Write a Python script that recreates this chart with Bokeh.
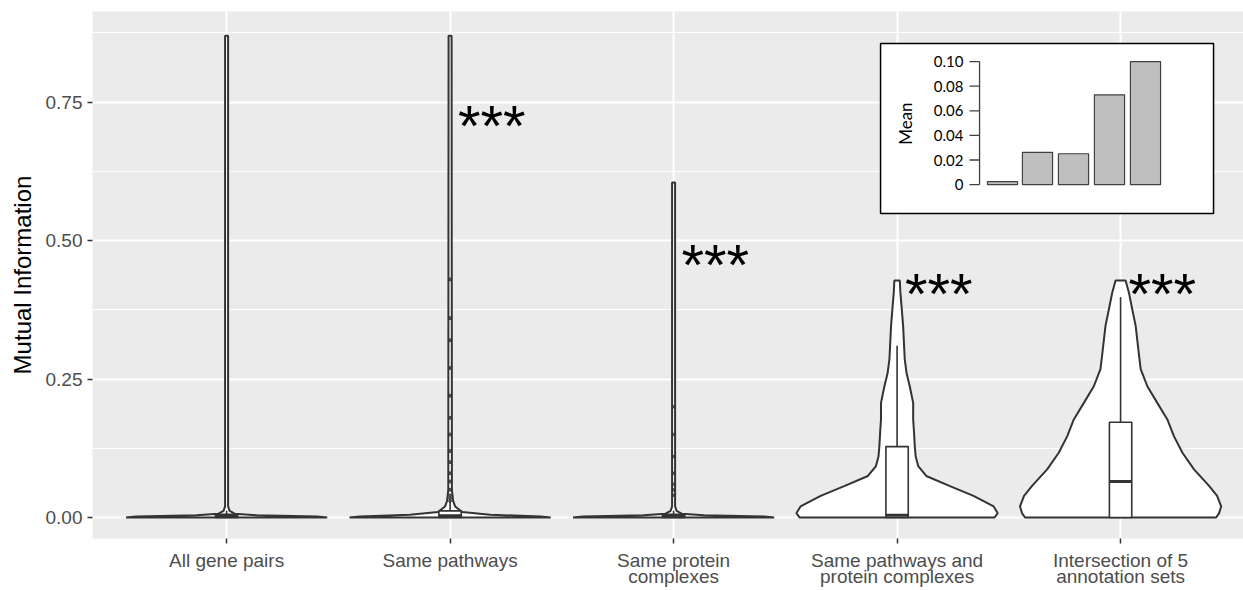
import numpy as np
from bokeh.plotting import figure
from bokeh.models import Range1d, FixedTicker
from bokeh.core.properties import value
from bokeh.embed import file_html
from bokeh.resources import INLINE

# ---------------- data ----------------
CATEGORIES = ["All gene pairs", "Same pathways", "Same protein\ncomplexes",
              "Same pathways and\nprotein complexes", "Intersection of 5\nannotation sets"]
Y_TICKS = [0.0, 0.25, 0.5, 0.75]
Y_TICK_LABELS = ["0.00", "0.25", "0.50", "0.75"]
Y_MINOR = [0.125, 0.375, 0.625, 0.875]

# violin profiles: values (y) and relative half-width (1 = widest)
V1_Y = [0.0, 0.002, 0.004, 0.007, 0.012, 0.02, 0.87]
V1_W = [1.0, 0.9, 0.3, 0.08, 0.03, 0.015, 0.015]
V2_Y = [0.0, 0.002, 0.005, 0.01, 0.02, 0.03, 0.05, 0.87]
V2_W = [1.0, 0.9, 0.4, 0.12, 0.05, 0.03, 0.018, 0.015]
V3_Y = [0.0, 0.002, 0.004, 0.007, 0.012, 0.02, 0.605]
V3_W = [1.0, 0.9, 0.3, 0.08, 0.03, 0.015, 0.015]
V4_Y = [0.0, 0.008, 0.020, 0.039, 0.057, 0.075, 0.093, 0.110, 0.129, 0.155,
        0.177, 0.207, 0.237, 0.260, 0.286, 0.346, 0.380, 0.406, 0.428]
V4_W = [0.97, 1.0, 0.96, 0.76, 0.52, 0.29, 0.21, 0.185, 0.176, 0.168,
        0.16, 0.16, 0.126, 0.095, 0.076, 0.06, 0.045, 0.033, 0.027]
V5_Y = [0.0, 0.008, 0.020, 0.039, 0.057, 0.087, 0.117, 0.147, 0.177, 0.207,
        0.237, 0.268, 0.298, 0.346, 0.376, 0.406, 0.428]
V5_W = [0.95, 0.98, 1.0, 0.96, 0.88, 0.73, 0.615, 0.53, 0.465, 0.365,
        0.266, 0.2, 0.18, 0.15, 0.116, 0.083, 0.05]
VIOLIN_Y = [V1_Y, V2_Y, V3_Y, V4_Y, V5_Y]
VIOLIN_W = [V1_W, V2_W, V3_W, V4_W, V5_W]

# boxplot statistics
BOX_LO = [0.0, 0.0, 0.0, 0.0, 0.0]
BOX_Q1 = [0.0, 0.0, 0.0, 0.0, 0.0]
BOX_MED = [0.002, 0.003, 0.002, 0.004, 0.065]
BOX_Q3 = [0.006, 0.012, 0.006, 0.128, 0.172]
BOX_HI = [0.012, 0.028, 0.012, 0.31, 0.398]
OUTLIERS_2 = [0.43, 0.36, 0.32, 0.27, 0.22, 0.18, 0.15, 0.12, 0.10, 0.08,
              0.065, 0.05, 0.04, 0.035, 0.03]
OUTLIERS_3 = [0.20, 0.15, 0.11, 0.08, 0.06, 0.05, 0.04]

# significance marks
STAR_GROUPS = [2, 3, 4, 5]
STAR_Y = [0.708, 0.457, 0.405, 0.405]
STAR_TEXT = ["***", "***", "***", "***"]

# inset: mean per group
MEANS = [0.0024, 0.0262, 0.0251, 0.073, 0.100]
INSET_TICKS = [0.0, 0.02, 0.04, 0.06, 0.08, 0.10]
INSET_TICK_LABELS = ["0", "0.02", "0.04", "0.06", "0.08", "0.10"]

# ---------------- styling / layout ----------------
VIOLIN_HALF = 0.45
BOX_HALF = 0.05
DARK = "#333333"

p = figure(width=1243, height=590,
           x_range=Range1d(0.4, 5.55), y_range=Range1d(-0.0379, 0.9137),
           output_backend="svg", toolbar_location=None,
           min_border_left=92, min_border_right=0, min_border_top=11, min_border_bottom=49)
p.background_fill_color = "#EBEBEB"
p.border_fill_color = "white"
p.outline_line_color = None

xt = FixedTicker(ticks=[1, 2, 3, 4, 5], minor_ticks=[])
yt = FixedTicker(ticks=Y_TICKS, minor_ticks=Y_MINOR)
p.xaxis.ticker = xt
p.yaxis.ticker = yt
p.xgrid.ticker = xt
p.ygrid.ticker = yt
p.xaxis.major_label_overrides = {i + 1: c for i, c in enumerate(CATEGORIES)}
p.yaxis.major_label_overrides = {t: l for t, l in zip(Y_TICKS, Y_TICK_LABELS)}

p.grid.grid_line_color = "white"
p.grid.grid_line_width = 2
p.ygrid.minor_grid_line_color = "white"
p.ygrid.minor_grid_line_width = 1
p.xgrid.minor_grid_line_color = None

p.axis.axis_line_color = None
p.axis.major_tick_line_color = DARK
p.axis.major_tick_line_width = 1.5
p.axis.major_tick_out = 5
p.axis.major_tick_in = 0
p.axis.minor_tick_line_color = None
p.axis.major_label_text_font = "Liberation Sans"
p.axis.major_label_text_font_size = "19px"
p.axis.major_label_text_color = "#4D4D4D"
p.xaxis.major_label_standoff = 6
p.yaxis.major_label_standoff = 5
p.xaxis.major_label_text_line_height = 0.8
p.yaxis.axis_label = "Mutual Information"
p.yaxis.axis_label_text_font = "Liberation Sans"
p.yaxis.axis_label_text_font_size = "24px"
p.yaxis.axis_label_text_font_style = "normal"
p.yaxis.axis_label_text_color = "black"
p.yaxis.axis_label_standoff = 7

# violins
xs, ys = [], []
for i, (vy, vw) in enumerate(zip(VIOLIN_Y, VIOLIN_W)):
    c = i + 1
    vy = np.array(vy)
    vw = np.array(vw) * VIOLIN_HALF
    xs.append(list(np.concatenate([c - vw, (c + vw)[::-1]])))
    ys.append(list(np.concatenate([vy, vy[::-1]])))
p.patches(xs, ys, fill_color="white", line_color=DARK, line_width=2)

# boxplots
cx = np.arange(1, 6)
p.segment(x0=cx, y0=BOX_Q3, x1=cx, y1=BOX_HI, line_color=DARK, line_width=1.6)
p.segment(x0=cx, y0=BOX_LO, x1=cx, y1=BOX_Q1, line_color=DARK, line_width=1.6)
p.quad(left=cx - BOX_HALF, right=cx + BOX_HALF, bottom=BOX_Q1, top=BOX_Q3,
       fill_color="white", line_color=DARK, line_width=1.6)
p.segment(x0=cx - BOX_HALF, y0=BOX_MED, x1=cx + BOX_HALF, y1=BOX_MED,
          line_color=DARK, line_width=3)
p.scatter(x=[2] * len(OUTLIERS_2), y=OUTLIERS_2, size=3, color=DARK, alpha=0.8)
p.scatter(x=[3] * len(OUTLIERS_3), y=OUTLIERS_3, size=2.5, color=DARK, alpha=0.8)

# significance stars
p.text(x=[g + 0.035 for g in STAR_GROUPS], y=STAR_Y, text=STAR_TEXT,
       text_font=value("Liberation Sans"), text_font_size="58px",
       text_align="left", text_baseline="alphabetic", text_color="black")

# inset box (layout position in main data units)
p.quad(left=[3.926], right=[5.416], bottom=[0.5488], top=[0.8557],
       fill_color="white", line_color="black", line_width=1.5)

sub = p.subplot(x_source=Range1d(0.5, 5.5), y_source=Range1d(0.0, 0.1),
                x_target=Range1d(4.3915, 5.194), y_target=Range1d(0.6011, 0.8232))
bx = np.arange(1, len(MEANS) + 1)
sub.vbar(x=bx, top=MEANS, bottom=0, width=0.84, fill_color="#BFBFBF",
         line_color="#404040", line_width=1.2)
AX = 0.36
sub.segment(x0=[AX], y0=[INSET_TICKS[0]], x1=[AX], y1=[INSET_TICKS[-1]],
            line_color="#404040", line_width=1.3)
sub.segment(x0=[AX] * len(INSET_TICKS), y0=INSET_TICKS, x1=[AX - 0.28] * len(INSET_TICKS),
            y1=INSET_TICKS, line_color="#404040", line_width=1.3)
sub.text(x=[AX - 0.45] * len(INSET_TICKS), y=INSET_TICKS, text=INSET_TICK_LABELS,
         text_font=value("Lato"), text_font_size="15px", text_align="right",
         text_baseline="middle", text_color="black")
sub.text(x=[-1.70], y=[0.0496], text=["Mean"], angle=np.pi / 2,
         text_font=value("Lato"), text_font_size="17px", text_align="center",
         text_baseline="middle", text_color="black")

open("out.html", "w").write(file_html(p, INLINE))
